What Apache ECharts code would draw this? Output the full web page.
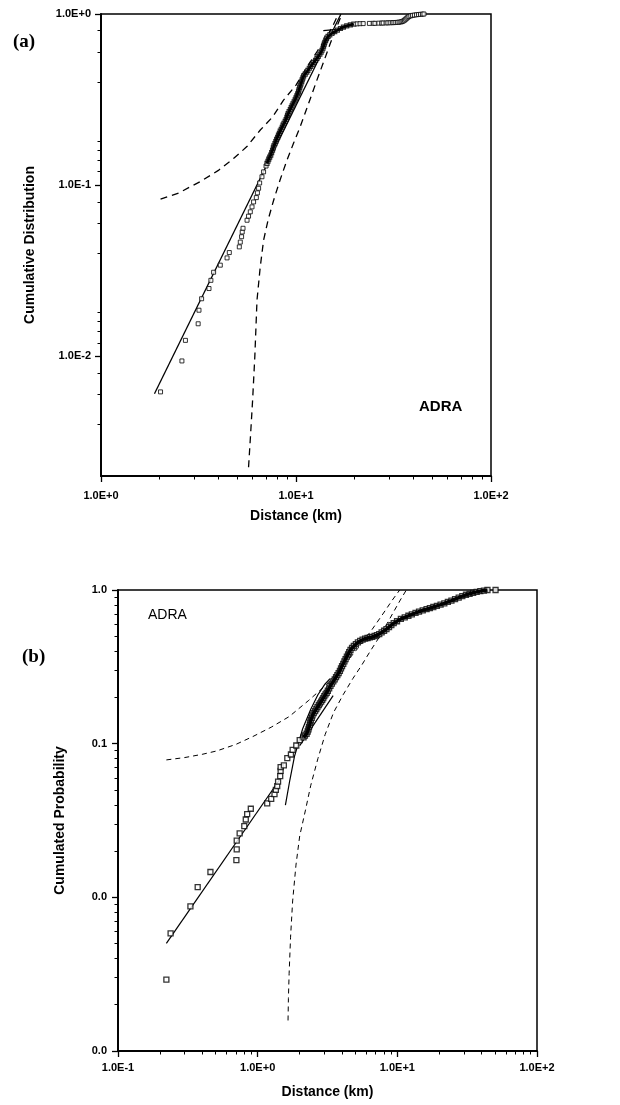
<!DOCTYPE html>
<html><head><meta charset="utf-8">
<script src="https://cdn.jsdelivr.net/npm/echarts@6/dist/echarts.min.js"></script>
<style>html,body{margin:0;padding:0;background:#fff}#c{width:620px;height:1105px}</style>
</head><body><div id="c"></div>
<script>
// ---------- Panel (a) ----------
const aXTickVals = [1, 10, 100];
const aXTickText = ['1.0E+0', '1.0E+1', '1.0E+2'];
const aYTickVals = [0.01, 0.1, 1];
const aYTickText = ['1.0E-2', '1.0E-1', '1.0E+0'];

const aSparseX = [2.02,2.60,2.71,3.15,3.18,3.28,3.58,3.66,3.78,4.09,4.43,4.55,5.12,5.18,5.26,5.30,5.35,5.61,5.71,5.83,5.95,6.06,6.26,6.34,6.43,6.51,6.69,6.82,7.02];
const aSparseY = [0.0062,0.0094,0.0124,0.0155,0.0186,0.0217,0.0249,0.0278,0.031,0.0341,0.0376,0.0404,0.0436,0.0465,0.050,0.0533,0.056,0.0624,0.0659,0.0699,0.0747,0.0798,0.0846,0.0902,0.0959,0.103,0.112,0.1196,0.1294];
const aBandX = [7.10,7.18,7.25,7.33,7.42,7.50,7.58,7.65,7.70,7.80,7.88,7.95,8.05,8.13,8.22,8.30,8.40,8.50,8.58,8.68,8.80,8.90,8.98,9.05,9.12,9.22,9.35,9.45,9.55,9.65,9.78,9.90,
  10.0,10.1,10.2,10.3,10.35,10.45,10.5,10.6,10.7,10.75,10.85,10.95,11.15,11.35,11.5,11.7,11.9,12.1,12.35,12.6,12.8,13.0,13.25,13.45,13.6,13.75,13.85,13.95,14.05,14.2,14.35,14.6,14.9,15.3,15.8,16.3,16.9,17.5,18.2,19.0,19.8];
const aBandY = [0.134,0.138,0.142,0.146,0.150,0.155,0.160,0.165,0.170,0.175,0.180,0.185,0.190,0.196,0.201,0.207,0.212,0.218,0.224,0.230,0.236,0.242,0.249,0.256,0.262,0.269,0.276,0.284,0.291,0.299,0.307,0.315,
  0.324,0.333,0.342,0.351,0.361,0.371,0.381,0.391,0.402,0.413,0.424,0.435,0.446,0.457,0.469,0.482,0.495,0.508,0.522,0.536,0.551,0.566,0.582,0.598,0.614,0.631,0.648,0.666,0.684,0.703,0.722,0.740,0.756,0.772,0.788,0.805,0.823,0.838,0.852,0.864,0.873];
const aPlateauX = [20.6,21.3,22.1,23.8,24.9,25.4,26.6,27.5,28.0,29.0,29.6,30.4,31.2,31.8,32.5,33.2,33.8,34.5,35.0,35.5,36.0,36.5,37.0,37.5,38.0,38.8,39.6,40.5,41.5,42.5,43.5,44.5,45.3];
const aPlateauY = [0.876,0.878,0.879,0.881,0.882,0.882,0.884,0.885,0.886,0.887,0.888,0.889,0.890,0.891,0.892,0.894,0.896,0.899,0.903,0.910,0.920,0.932,0.945,0.958,0.968,0.976,0.982,0.986,0.990,0.993,0.996,0.998,1.0];

const aFitX = [1.88, 17.0];
const aFitY = [0.00605, 1.0];
const aTopFitX = [13.8, 16.8];
const aTopFitY = [0.80, 0.815];
const aUpperX = [2.02,2.5,3.23,4.0,4.78,5.6,6.56,7.6,8.63,10.0,11.4,12.9,14.4,15.5,16.5];
const aUpperY = [0.0828,0.090,0.105,0.122,0.143,0.168,0.21,0.251,0.314,0.384,0.492,0.61,0.737,0.86,1.0];
const aLowerX = [5.71,5.85,5.99,6.15,6.31,6.55,6.82,7.2,7.68,8.3,8.99,9.7,10.5,11.6,12.8,13.9,15.0,16.1,17.2];
const aLowerY = [0.00225,0.0035,0.00553,0.010,0.0213,0.033,0.0477,0.063,0.0817,0.108,0.14,0.175,0.219,0.30,0.411,0.53,0.674,0.83,1.0];

// ---------- Panel (b) ----------
const bXTickVals = [0.1, 1, 10, 100];
const bXTickText = ['1.0E-1', '1.0E+0', '1.0E+1', '1.0E+2'];
const bYTickVals = [0.001, 0.01, 0.1, 1];
const bYTickText = ['0.0', '0.0', '0.1', '1.0'];

const bSparseX = [0.222,0.238,0.330,0.372,0.459,0.704,0.708,0.708,0.743,0.802,0.822,0.841,0.893,1.17,1.25,1.32,1.35,1.38,1.40,1.45,1.46,1.46,1.54,1.63,1.73,1.78,1.89,2.0,50.5];
const bSparseY = [0.00291,0.00582,0.00873,0.01164,0.01462,0.01747,0.0205,0.0234,0.0261,0.0291,0.0321,0.0348,0.0377,0.0409,0.0437,0.0469,0.050,0.053,0.0566,0.0614,0.0666,0.0703,0.0722,0.0805,0.085,0.0912,0.0973,0.1056,1.0];
const bBandX = [2.13,2.18,2.24,2.28,2.31,2.33,2.36,2.38,2.40,2.44,2.47,2.52,2.58,2.63,2.68,2.74,2.79,2.85,2.90,2.95,3.00,3.06,3.12,3.18,3.25,3.32,3.40,3.48,3.56,3.64,3.72,3.80,3.88,3.95,
  4.02,4.10,4.18,4.26,4.35,4.44,4.52,4.62,4.74,4.88,5.05,5.22,5.42,5.64,5.88,6.12,6.36,6.60,6.88,7.15,7.42,7.72,8.04,8.36,8.72,9.06,9.42,9.95,
  10.6,11.3,12.0,12.7,13.5,14.3,15.2,16.2,17.1,18.1,19.2,20.4,21.7,23.0,24.4,25.9,27.5,29.2,31.0,32.9,34.9,37.0,39.3,41.7,44.2];
const bBandY = [0.110,0.113,0.116,0.120,0.124,0.128,0.132,0.137,0.142,0.147,0.153,0.158,0.163,0.168,0.173,0.178,0.183,0.188,0.193,0.198,0.204,0.209,0.214,0.221,0.229,0.238,0.246,0.254,0.262,0.271,0.279,0.288,0.298,0.309,
  0.320,0.331,0.343,0.355,0.368,0.381,0.394,0.407,0.420,0.432,0.444,0.456,0.466,0.475,0.482,0.487,0.491,0.495,0.502,0.509,0.517,0.530,0.543,0.557,0.574,0.591,0.608,0.626,
  0.648,0.664,0.680,0.695,0.709,0.723,0.738,0.751,0.763,0.775,0.789,0.803,0.818,0.836,0.854,0.873,0.892,0.911,0.931,0.945,0.959,0.973,0.983,0.992,1.0];

const bFit1X = [0.222, 1.43];
const bFit1Y = [0.00502, 0.058];
const bFit2X = [1.58, 1.70, 1.835, 2.1, 2.40, 2.70, 3.04, 3.3];
const bFit2Y = [0.0398, 0.058, 0.0827, 0.125, 0.1675, 0.208, 0.245, 0.265];
const bFit3X = [2.0, 3.47];
const bFit3Y = [0.097, 0.2056];
const bUpperX = [0.222,0.3,0.4,0.51,0.7,0.926,1.25,1.68,2.3,3.04,4.09,5.2,6.59,7.88,9.2,10.4];
const bUpperY = [0.0784,0.0812,0.0852,0.0897,0.099,0.1114,0.128,0.15,0.19,0.238,0.32,0.416,0.553,0.698,0.859,1.0];
const bLowerX = [1.65,1.66,1.68,1.72,1.78,1.88,2.0,2.2,2.40,2.7,3.04,3.5,4.09,4.8,5.52,6.4,7.43,8.4,9.42,10.5,11.6];
const bLowerY = [0.00158,0.0022,0.0032,0.0055,0.00947,0.0162,0.0251,0.037,0.0536,0.08,0.1145,0.16,0.208,0.265,0.321,0.40,0.494,0.60,0.723,0.86,1.0];

// ---------- helpers ----------
const SANS = '"Liberation Sans", Arial, sans-serif';
const SERIF = '"Liberation Serif", "Times New Roman", serif';
function pairs(xs, ys) { return xs.map((x, i) => [x, ys[i]]); }
function minorTicks(lo, hi) {
  const out = [];
  for (let d = lo; d < hi * 0.999; d *= 10) for (let k = 2; k <= 9; k++) out.push(+(d * k).toPrecision(3));
  return out;
}
function fmt(vals, texts) {
  return v => { for (let i = 0; i < vals.length; i++) if (Math.abs(Math.log10(v) - Math.log10(vals[i])) < 0.01) return texts[i]; return ''; };
}
function axisPair(kind, gridIndex, min, max, vals, texts, name, nameGap, labelMargin) {
  const pos = kind === 'x' ? 'bottom' : 'left';
  const major = {
    type: 'log', logBase: 10, gridIndex, min, max, position: pos,
    name, nameLocation: 'middle', nameGap,
    nameTextStyle: { fontFamily: SANS, fontWeight: 'bold', fontSize: 14, color: '#000' },
    axisLine: { show: true, lineStyle: { color: '#000', width: 1.5 } },
    axisTick: { show: true, inside: false, length: 6, lineStyle: { color: '#000', width: 1.3 }, customValues: vals },
    axisLabel: { show: true, margin: labelMargin, customValues: vals, formatter: fmt(vals, texts),
      fontFamily: SANS, fontWeight: 'bold', fontSize: 11, color: '#000' },
    splitLine: { show: false }
  };
  const minor = {
    type: 'log', logBase: 10, gridIndex, min, max, position: pos,
    axisLine: { show: true, lineStyle: { color: '#000', width: 1.5 } },
    axisTick: { show: true, inside: false, length: 3.5, lineStyle: { color: '#000', width: 1 }, customValues: minorTicks(min, max) },
    axisLabel: { show: false },
    splitLine: { show: false }
  };
  return [major, minor];
}
function lineSeries(xi, yi, xs, ys, dashed, width, z) {
  return { type: 'line', xAxisIndex: xi, yAxisIndex: yi, data: pairs(xs, ys), showSymbol: false, smooth: false,
    lineStyle: { color: '#000', width: width, type: dashed || 'solid' }, z: z || 2, silent: true };
}
function obsSeries(xi, yi, xs, ys, size, bw) {
  return { type: 'scatter', xAxisIndex: xi, yAxisIndex: yi, data: pairs(xs, ys), symbol: 'rect', symbolSize: size,
    itemStyle: { color: '#fff', borderColor: '#000', borderWidth: bw }, z: 3, silent: true };
}

const chart = echarts.init(document.getElementById('c'), null, { renderer: 'canvas' });
chart.setOption({
  animation: false,
  backgroundColor: '#fff',
  grid: [
    { left: 101, top: 14, width: 390, height: 462, show: true, borderColor: '#000', borderWidth: 1.5, backgroundColor: 'transparent', containLabel: false },
    { left: 118, top: 590, width: 419, height: 461, show: true, borderColor: '#000', borderWidth: 1.5, backgroundColor: 'transparent', containLabel: false }
  ],
  xAxis: [
    ...axisPair('x', 0, 1, 100, aXTickVals, aXTickText, 'Distance (km)', 33, 14),
    ...axisPair('x', 1, 0.1, 100, bXTickVals, bXTickText, 'Distance (km)', 34, 11)
  ],
  yAxis: [
    ...axisPair('y', 0, 0.002, 1, aYTickVals, aYTickText, 'Cumulative Distribution', 64, 10),
    ...axisPair('y', 1, 0.001, 1, bYTickVals, bYTickText, 'Cumulated Probability', 51, 11)
  ],
  series: [
    lineSeries(0, 0, aFitX, aFitY, 'solid', 1.3),
    lineSeries(0, 0, aTopFitX, aTopFitY, 'solid', 1.3),
    lineSeries(0, 0, aUpperX, aUpperY, [7, 5], 1.3),
    lineSeries(0, 0, aLowerX, aLowerY, [7, 5], 1.3),
    obsSeries(0, 0, aSparseX, aSparseY, 4, 1),
    obsSeries(0, 0, aBandX, aBandY, 4, 1.2),
    lineSeries(0, 0, aBandX, aBandY, 'solid', 2.8, 4),
    obsSeries(0, 0, aPlateauX, aPlateauY, 4, 1),
    lineSeries(2, 2, bFit1X, bFit1Y, 'solid', 1.2),
    lineSeries(2, 2, bFit2X, bFit2Y, 'solid', 1.2),
    lineSeries(2, 2, bFit3X, bFit3Y, 'solid', 1.2),
    lineSeries(2, 2, bUpperX, bUpperY, [5, 4], 1),
    lineSeries(2, 2, bLowerX, bLowerY, [5, 4], 1),
    obsSeries(2, 2, bSparseX, bSparseY, 5, 1.3),
    obsSeries(2, 2, bBandX, bBandY, 5, 1.3),
    lineSeries(2, 2, bBandX, bBandY, 'solid', 3.5, 4)
  ],
  graphic: [
    { type: 'text', left: 13, top: 33, style: { text: '(a)', font: 'bold 19px ' + SERIF, fill: '#000' } },
    { type: 'text', left: 22, top: 648, style: { text: '(b)', font: 'bold 19px ' + SERIF, fill: '#000' } },
    { type: 'text', left: 419, top: 399, style: { text: 'ADRA', font: 'bold 15px ' + SANS, fill: '#000' } },
    { type: 'text', left: 148, top: 608, style: { text: 'ADRA', font: '14px ' + SANS, fill: '#000' } }
  ]
});
</script></body></html>
